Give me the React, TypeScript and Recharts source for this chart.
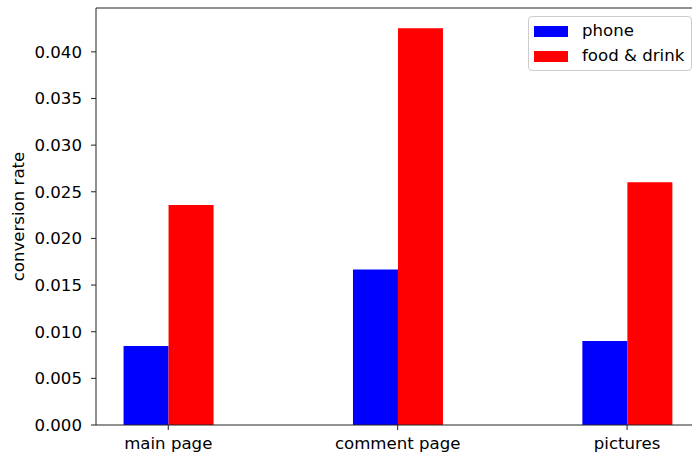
import { Bar, BarChart, Legend, ReferenceLine, XAxis, YAxis } from "recharts";

// conversion rate per page, by category
const pages = ["main page", "comment page", "pictures"];
const phone = [0.00848, 0.01667, 0.00901];
const foodAndDrink = [0.02357, 0.04253, 0.02601];
const yTicks = [0, 0.005, 0.01, 0.015, 0.02, 0.025, 0.03, 0.035, 0.04];

const FONT = "'DejaVu Sans', sans-serif";
const FS = 16.6;
const Y_MAX = 0.0447;

const rows = pages.map((page, i) => ({
  x: i,
  page,
  phone: phone[i],
  food: foodAndDrink[i],
}));

const legendItems = [
  { name: "phone", color: "#0000ff" },
  { name: "food & drink", color: "#ff0000" },
];

function LegendBox() {
  return (
    <div
      style={{
        width: 162,
        height: 53,
        border: "1px solid #cccccc",
        borderRadius: 4,
        background: "#fff",
        fontFamily: FONT,
        fontSize: FS,
        color: "#000",
        position: "relative",
      }}
    >
      {legendItems.map((it, i) => (
        <div key={it.name} style={{ position: "absolute", left: 5, top: 8 + i * 25, display: "flex", alignItems: "center" }}>
          <div style={{ width: 34, height: 11, background: it.color }} />
          <span style={{ marginLeft: 14, lineHeight: "12px" }}>{it.name}</span>
        </div>
      ))}
    </div>
  );
}

export default function App() {
  return (
    <div style={{ position: "absolute", left: 0, top: 0, width: 692, height: 456, background: "#fff" }}>
      <BarChart width={692} height={456} data={rows} margin={{ top: 8, right: 0, bottom: 0, left: 0 }} barGap={0}>
        <XAxis
          dataKey="x"
          type="number"
          domain={[-0.315, 2.283]}
          allowDataOverflow
          ticks={[0, 1, 2]}
          tickFormatter={(v: number) => pages[v] ?? ""}
          height={31}
          tickSize={5}
          tickMargin={7}
          stroke="#222"
          tick={{ fill: "#000", fontSize: FS, fontFamily: FONT }}
        />
        <YAxis
          domain={[0, Y_MAX]}
          allowDataOverflow
          ticks={yTicks}
          tickFormatter={(v: number) => v.toFixed(3)}
          width={96}
          tickSize={5}
          tickMargin={9}
          stroke="#222"
          tick={{ fill: "#000", fontSize: FS, fontFamily: FONT }}
          label={{
            value: "conversion rate",
            angle: -90,
            position: "insideLeft",
            offset: 18,
            style: { textAnchor: "middle", fill: "#000", fontSize: FS, fontFamily: FONT },
          }}
        />
        <ReferenceLine y={Y_MAX} stroke="#222" strokeWidth={1} />
        <Bar dataKey="phone" name="phone" fill="#0000ff" barSize={45} isAnimationActive={false} />
        <Bar dataKey="food" name="food & drink" fill="#ff0000" barSize={45} isAnimationActive={false} />
        <Legend
          layout="vertical"
          align="center"
          verticalAlign="middle"
          content={() => <LegendBox />}
          wrapperStyle={{ left: 528, top: 16, width: 164, height: 55 }}
        />
      </BarChart>
    </div>
  );
}
